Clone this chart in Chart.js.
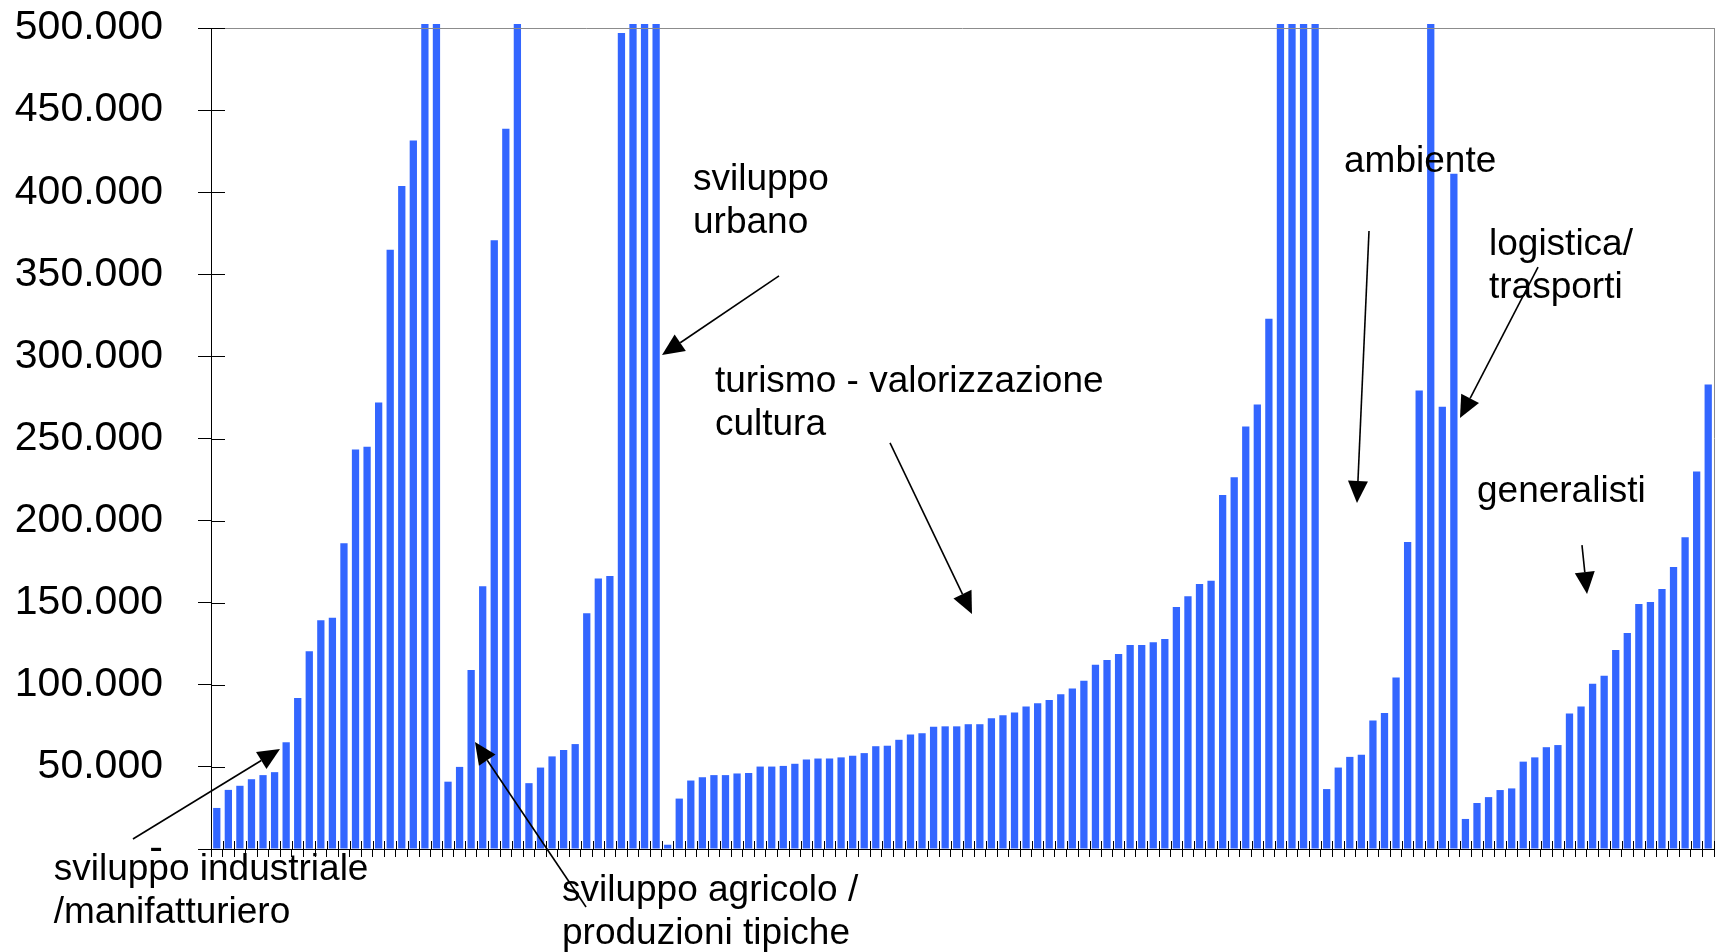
<!DOCTYPE html>
<html>
<head>
<meta charset="utf-8">
<script src="https://cdn.jsdelivr.net/npm/chart.js@4.4.1/dist/chart.umd.min.js"></script>
<style>
    html, body { margin: 0; padding: 0; background: #fff; }
    .chart-box { width: 1722px; height: 952px; }
</style>
</head>
<body>
<div class="chart-box"><canvas id="chart"></canvas></div>
<script>
// one bar per project, grouped by sector and sorted inside each group
// bars taller than 500.000 are cut at the top of the plot like in the original
const industriale = [25000, 36000, 38500, 42500, 45000, 46800, 65000, 92000, 120500, 139300,
    140900, 186200, 243300, 244900, 272000, 365000, 403800, 431500, 560000, 620000]
const agricolo = [41000, 50000, 109000, 160000, 370800, 438700, 540000]
const urbano = [40100, 49600, 56400, 60300, 63900, 143500, 164700, 166300, 497000, 520000, 580000, 650000]
const turismo = [2600, 30700, 41700, 43700, 45000, 45000, 46000, 46300, 50200, 50200,
    50600, 51900, 54500, 55100, 55100, 55800, 56800, 58400, 62600, 62900,
    66500, 69800, 70500, 74400, 74700, 74700, 76000, 76000, 79600, 81500,
    83200, 86800, 88700, 90700, 94300, 97800, 102400, 112200, 115100, 118700,
    124300, 124300, 125900, 127900, 147400, 153900, 161400, 163400, 215600, 226400,
    257300, 270700, 322900, 530000, 590000, 680000, 900000]
const ambiente = [36500, 49600, 56100, 57400, 78300, 82800, 104400, 186900, 279200, 700000]
const logistica = [269400, 411300]
const generalisti = [18300, 28000, 31600, 35900, 36900, 53200, 55800, 62000, 63300, 82500,
    86800, 100600, 105500, 121200, 131500, 149200, 150400, 158300, 171700, 189800,
    229900, 282900]

const values = [...industriale, ...agricolo, ...urbano, ...turismo, ...ambiente, ...logistica, ...generalisti]
const labels = values.map((v, i) => `${i + 1}`)

const yMin = 0
const yMax = 500000
const yStep = 50000

// notes: text position and arrow in chart units (x = bar index, y = value)
const notes = [
    { lines: ['sviluppo industriale', '/manifatturiero'], x: -14.1, y: -18900, from: [-7.25, 6100], to: [5.47, 60900] },
    { lines: ['sviluppo agricolo /', 'produzioni tipiche'], x: 29.86, y: -31700, from: [31.94, -35300], to: [22.33, 65200] },
    { lines: ['sviluppo', 'urbano'], x: 41.19, y: 401300, from: [48.63, 349000], to: [38.51, 300800] },
    { lines: ['turismo - valorizzazione', 'cultura'], x: 43.09, y: 278300, from: [58.23, 247300], to: [65.32, 143100] },
    { lines: ['ambiente'], x: 97.5, y: 412300, from: [99.66, 376400], to: [98.62, 210700] },
    { lines: ['logistica/', 'trasporti'], x: 110.04, y: 361700, from: [114.28, 354400], to: [107.53, 262500] },
    { lines: ['generalisti'], x: 109.0, y: 211300, from: [118.08, 185100], to: [118.52, 155300] }
]

const fontFamily = '"Liberation Sans", Arial, sans-serif'

function formatTick(value) {
    if (value === 0) return '-'
    return String(value).replace(/\B(?=(\d{3})+(?!\d))/g, '.')
}

function drawArrow(ctx, x1, y1, x2, y2) {
    const angle = Math.atan2(y2 - y1, x2 - x1)
    const len = 22
    const half = 10
    const bx = x2 - len * Math.cos(angle)
    const by = y2 - len * Math.sin(angle)
    ctx.beginPath()
    ctx.moveTo(x1, y1)
    ctx.lineTo(bx, by)
    ctx.stroke()
    ctx.beginPath()
    ctx.moveTo(x2, y2)
    ctx.lineTo(bx + half * Math.sin(angle), by - half * Math.cos(angle))
    ctx.lineTo(bx - half * Math.sin(angle), by + half * Math.cos(angle))
    ctx.closePath()
    ctx.fill()
}

const frame = {
    id: 'frame',
    afterDatasetsDraw(chart) {
        const { ctx, chartArea: a, scales: { x, y } } = chart
        ctx.save()
        ctx.lineWidth = 1
        ctx.strokeStyle = '#8c8c8c'
        ctx.beginPath()
        ctx.moveTo(a.left, Math.round(a.top) + 0.5)
        ctx.lineTo(a.right, Math.round(a.top) + 0.5)
        ctx.moveTo(Math.round(a.right) + 0.5, a.top)
        ctx.lineTo(Math.round(a.right) + 0.5, a.bottom)
        ctx.stroke()
        // tick marks also cross into the plot
        ctx.strokeStyle = '#000'
        ctx.beginPath()
        y.ticks.forEach((t, i) => {
            const py = Math.round(y.getPixelForTick(i)) + 0.5
            ctx.moveTo(a.left, py)
            ctx.lineTo(a.left + 14, py)
        })
        for (let i = 0; i <= labels.length; i++) {
            const px = Math.round(x.getPixelForValue(i - 0.5)) + 0.5
            ctx.moveTo(px, a.bottom)
            ctx.lineTo(px, a.bottom - 8)
        }
        ctx.stroke()
        ctx.restore()
    }
}

const annotations = {
    id: 'annotations',
    afterDraw(chart) {
        const { ctx, scales: { x, y } } = chart
        ctx.save()
        ctx.font = `37px ${fontFamily}`
        ctx.fillStyle = '#000'
        ctx.strokeStyle = '#000'
        ctx.lineWidth = 1.6
        ctx.textAlign = 'left'
        ctx.textBaseline = 'alphabetic'
        for (const note of notes) {
            note.lines.forEach((line, i) => {
                ctx.fillText(line, x.getPixelForValue(note.x), y.getPixelForValue(note.y) + i * 43)
            })
        }
        for (const note of notes) {
            drawArrow(ctx,
                x.getPixelForValue(note.from[0]), y.getPixelForValue(note.from[1]),
                x.getPixelForValue(note.to[0]), y.getPixelForValue(note.to[1]))
        }
        ctx.restore()
    }
}

Chart.defaults.font.family = fontFamily
Chart.defaults.color = '#000'

const ctx = document.getElementById('chart').getContext('2d')
const myChart = new Chart(ctx, {
    type: 'bar',
    data: {
        labels: labels,
        datasets: [{
            data: values,
            backgroundColor: '#3366ff',
            borderWidth: 0,
            barPercentage: 0.63,
            categoryPercentage: 1,
            clip: { left: 0, top: 4, right: 0, bottom: 0 }
        }]
    },
    options: {
        responsive: true,
        maintainAspectRatio: false,
        animation: false,
        devicePixelRatio: 1,
        layout: { padding: { left: 0, top: 28, right: 8, bottom: 0 } },
        plugins: {
            legend: { display: false },
            tooltip: { enabled: false }
        },
        scales: {
            x: {
                grid: { display: true, drawOnChartArea: false, drawTicks: true, tickLength: 8, color: '#000', offset: true },
                border: { display: true, color: '#000', width: 1 },
                ticks: { display: false },
                afterFit: scale => { scale.height = 103 }
            },
            y: {
                min: yMin,
                max: yMax,
                grid: { drawOnChartArea: false, drawTicks: true, tickLength: 13, color: '#000' },
                border: { display: true, color: '#000', width: 1 },
                ticks: {
                    stepSize: yStep,
                    padding: 35,
                    font: { size: 41 },
                    color: '#000',
                    callback: value => formatTick(value)
                },
                afterFit: scale => {
                    scale.width = 211
                    scale.paddingTop = 0
                    scale.paddingBottom = 0
                }
            }
        }
    },
    plugins: [frame, annotations]
})
</script>
</body>
</html>
